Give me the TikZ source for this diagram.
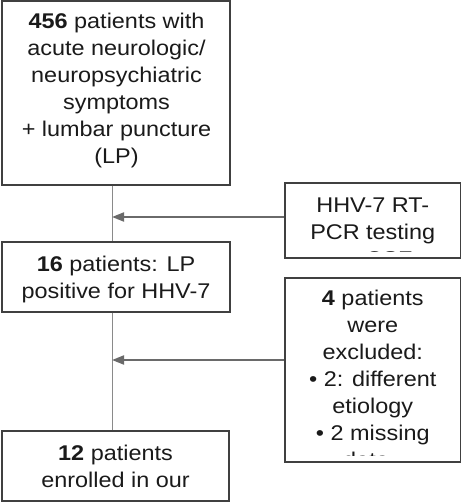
\documentclass[tikz,border=0pt]{standalone}
\usepackage{fontspec}
\setmainfont[FakeStretch=1.1]{Liberation Sans}
\usetikzlibrary{arrows.meta,calc}
\definecolor{txtc}{HTML}{1A1A1A}
\definecolor{boxc}{HTML}{404040}
\definecolor{linec}{HTML}{8A8A8A}
\definecolor{arrc}{HTML}{6A6A6A}
\begin{document}
\begin{tikzpicture}[x=1pt,y=1pt,
  box/.style={draw=boxc, line width=1.2pt, fill=white, rectangle, inner sep=0pt},
  txt/.style={text=txtc, anchor=base, inner sep=0pt, font=\fontsize{21.3}{27}\selectfont},
  conn/.style={draw=linec, line width=1pt},
  arr/.style={draw=arrc, line width=2pt, -{Triangle[length=12pt,width=9pt]}}]
\useasboundingbox (0,0) rectangle (461,-502);
\coordinate (spine) at (112,0);

% boxes
\node[box, minimum width=228pt, minimum height=184pt] (b1) at (116,-93) {};
\node[box, minimum width=228pt, minimum height=70pt] (b2) at (116,-277) {};
\node[box, minimum width=175.5pt, minimum height=75pt] (b3) at (372.75,-220.5) {};
\node[box, minimum width=175.5pt, minimum height=184pt] (b4) at (372.75,-370) {};
\node[box, minimum width=227pt, minimum height=70pt] (b5) at (115.5,-466) {};

% connectors
\draw[conn] (b1.south -| spine) -- (b2.north -| spine);
\draw[conn] (b2.south -| spine) -- (b5.north -| spine);
\coordinate (a1) at ($(b3.west)+(0,3.5)$);
\coordinate (a2) at ($(b4.west)+(0,10)$);
\draw[arr] (a1) -- (a1 -| spine);
\draw[arr] (a2) -- (a2 -| spine);

% texts box 1
\node[txt] (t1a) at (116.5,-29) {\textbf{456} patients with};
\node[txt] (t1b) at (116.5,-56) {acute neurologic/};
\node[txt] (t1c) at (116.5,-83) {neuropsychiatric};
\node[txt] (t1d) at (116.5,-110) {symptoms};
\node[txt] (t1e) at (116.5,-137) {+ lumbar puncture};
\node[txt] (t1f) at (116.5,-164) {(LP)};

% box 2
\node[txt] (t2a) at (116,-271) {\textbf{16} patients: LP};
\node[txt] (t2b) at (116,-298) {positive for HHV-7};

% box 3 (clipped)
\begin{scope}
\clip ($(b3.south west)+(0,7)$) rectangle (b3.north east);
\node[txt] (t3a) at (372.75,-213) {HHV-7 RT-};
\node[txt] (t3b) at (372.75,-240) {PCR testing};
\node[txt] (t3c) at (372.75,-266) {on CSF};
\end{scope}

% box 4 (clipped)
\begin{scope}
\clip ($(b4.south west)+(0,7)$) rectangle (b4.north east);
\node[txt] (t4a) at (372.75,-305.5) {\textbf{4} patients};
\node[txt] (t4b) at (372.75,-332.5) {were};
\node[txt] (t4c) at (372.75,-359.5) {excluded:};
\node[txt] (t4d) at (372.75,-386.5) {• 2: different};
\node[txt] (t4e) at (372.75,-413.5) {etiology};
\node[txt] (t4f) at (372.75,-440.5) {• 2 missing};
\node[txt] (t4g) at (366,-467) {data};
\end{scope}

% box 5
\node[txt] (t5a) at (115.5,-460) {\textbf{12} patients};
\node[txt] (t5b) at (115.5,-487.5) {enrolled in our};
\end{tikzpicture}
\end{document}
